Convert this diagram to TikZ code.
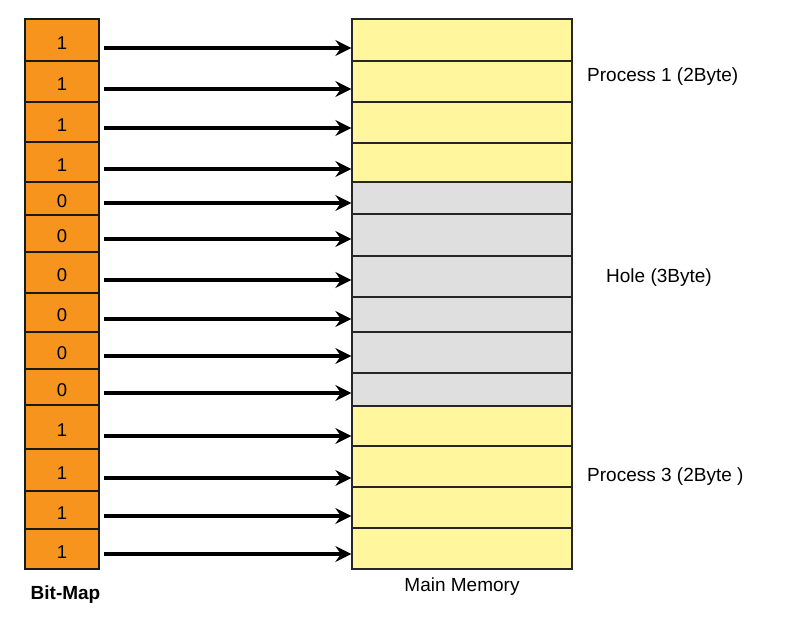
\documentclass[tikz,border=0pt]{standalone}
\usepackage{fontspec}
\setmainfont{Liberation Sans}
\usetikzlibrary{arrows.meta}
\definecolor{bitorange}{HTML}{F7941E}
\definecolor{memyellow}{HTML}{FFF69E}
\definecolor{memgray}{HTML}{DFDFDF}
\begin{document}
\begin{tikzpicture}[x=1pt,y=-1pt,
  bitcell/.style={draw=black!90, line width=2.2pt, fill=bitorange, minimum width=74pt,
    inner sep=0pt, text height=18pt, text depth=0pt, font=\fontsize{18.5}{18.5}\selectfont},
  memcell/.style={draw=black!85, line width=1.3pt, minimum width=220pt, inner sep=0pt},
  maparrow/.style={line width=3.2pt, -{Stealth[length=16pt,width=16pt,inset=5.5pt]}},
  lbl/.style={font=\fontsize{19}{19}\selectfont, inner sep=0pt}]
\useasboundingbox (0,0) rectangle (787,618);
% bit-map cells: index / top / bottom / bit / arrow y
\foreach \i/\t/\b/\v/\a in {1/19/61/1/48, 2/61/102/1/89, 3/102/142/1/128, 4/142/182/1/169,
    5/182/215/0/203, 6/215/252/0/239, 7/252/293/0/280, 8/293/332/0/319, 9/332/369/0/356,
    10/369/405/0/393, 11/405/449/1/436, 12/449/491/1/478, 13/491/529/1/516, 14/529/569/1/554}{
  \node[bitcell, minimum height={\b-\t}] (b\i) at (62,{(\t+\b)/2}) {\v};
  \coordinate (s\i) at (104,\a);
}
% memory cells: index / top / bottom / colour
\foreach \i/\t/\b/\c in {1/19/61/memyellow, 2/61/102/memyellow, 3/102/143/memyellow, 4/143/182/memyellow,
    5/182/214/memgray, 6/214/256/memgray, 7/256/297/memgray, 8/297/332/memgray, 9/332/373/memgray,
    10/373/406/memgray, 11/406/446/memyellow, 12/446/487/memyellow, 13/487/528/memyellow, 14/528/569/memyellow}{
  \node[memcell, fill=\c, minimum height={\b-\t}] (m\i) at (462,{(\t+\b)/2}) {};
}
\foreach \i in {1,...,14}{
  \draw[maparrow] (s\i) -- (m\i.west |- s\i);
}
\node[lbl, anchor=west] (p1) at (587,77) {Process 1 (2Byte)};
\node[lbl, anchor=west] (hole) at (606,278) {Hole (3Byte)};
\node[lbl, anchor=west] (p3) at (587,477) {Process 3 (2Byte )};
\node[lbl] (mm) at (462,587) {Main Memory};
\node[lbl, font=\fontsize{19}{19}\selectfont\bfseries] (bm) at (65.5,595) {Bit-Map};
\end{tikzpicture}
\end{document}
